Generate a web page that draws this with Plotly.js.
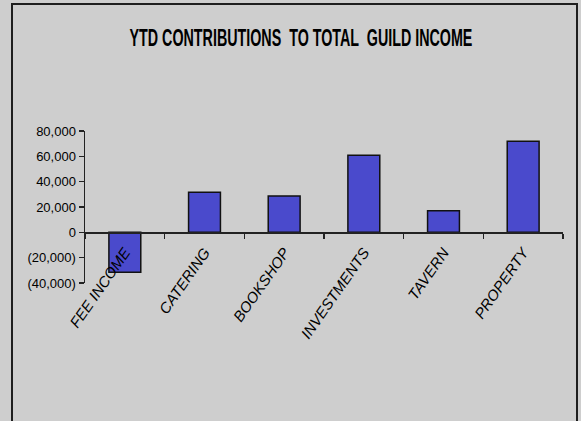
<!DOCTYPE html>
<html>
<head>
<meta charset="utf-8">
<script src="https://cdn.plot.ly/plotly-3.0.1.min.js"></script>
<style>
  html, body { margin: 0; padding: 0; background: #cecece; }
  #wrap { position: relative; width: 581px; height: 421px; overflow: hidden; }
  #chart { position: absolute; left: 0; top: 0; width: 581px; height: 421px; }
  #frame { position: absolute; left: 11px; top: 3px; width: 563px; height: 430px;
           border: 2px solid #1e1e1e; pointer-events: none; }
</style>
</head>
<body>
<div id="wrap">
  <div id="chart"></div>
  <div id="frame"></div>
</div>
<script>
const chartTitle = "YTD CONTRIBUTIONS  TO TOTAL  GUILD INCOME";
const categories = ["FEE INCOME", "CATERING", "BOOKSHOP", "INVESTMENTS", "TAVERN", "PROPERTY"];
const contributions = [-31500, 31700, 28600, 60800, 17000, 72000];
const yTickValues = [-40000, -20000, 0, 20000, 40000, 60000, 80000];
const yTickLabels = ["(40,000)", "(20,000)", "0", "20,000", "40,000", "60,000", "80,000"];

const trace = {
  type: 'bar',
  x: categories,
  y: contributions,
  marker: { color: '#4a4acc', line: { color: '#111111', width: 1.5 } },
  hoverinfo: 'none'
};

const layout = {
  width: 581, height: 421,
  margin: { l: 85, r: 18, t: 131, b: 138, pad: 0 },
  paper_bgcolor: '#cecece',
  plot_bgcolor: 'rgba(0,0,0,0)',
  showlegend: false,
  bargap: 0.6,
  title: {
    text: '<b>' + chartTitle + '</b>',
    font: { family: 'Liberation Sans, Arial, sans-serif', size: 24, color: '#000' },
    x: 0.518, xanchor: 'center', xref: 'container',
    y: 0.91, yanchor: 'middle', yref: 'container'
  },
  xaxis: {
    type: 'category',
    anchor: 'free', position: 1/3,
    showline: true, linecolor: '#222', linewidth: 1.5,
    ticks: 'outside', tickson: 'boundaries', ticklen: 5, tickcolor: '#222', tickwidth: 1.5,
    tickangle: -55,
    ticklabelstandoff: 4,
    tickfont: { family: 'Liberation Sans, Arial, sans-serif', size: 15, color: '#000', style: 'italic' },
    showgrid: false, zeroline: false, fixedrange: true
  },
  yaxis: {
    range: [-40000, 80000],
    tickvals: yTickValues,
    ticktext: yTickLabels,
    showline: true, linecolor: '#222', linewidth: 1.5,
    ticks: 'outside', ticklen: 5, tickcolor: '#222', tickwidth: 1.5,
    tickfont: { family: 'Liberation Sans, Arial, sans-serif', size: 13, color: '#000' },
    showgrid: false, zeroline: false, fixedrange: true
  }
};

Plotly.newPlot('chart', [trace], layout, { displayModeBar: false, staticPlot: true }).then(function (gd) {
  // condense the title horizontally, like the narrow face of the original
  const t = gd.querySelector('.gtitle');
  if (t) {
    const bb = t.getBBox();
    const cx = bb.x + bb.width / 2;
    const targetWidth = 343;
    const s = targetWidth / bb.width;
    t.setAttribute('transform', 'translate(' + (cx * (1 - s)) + ',0) scale(' + s + ',1)');
  }
});
</script>
</body>
</html>
